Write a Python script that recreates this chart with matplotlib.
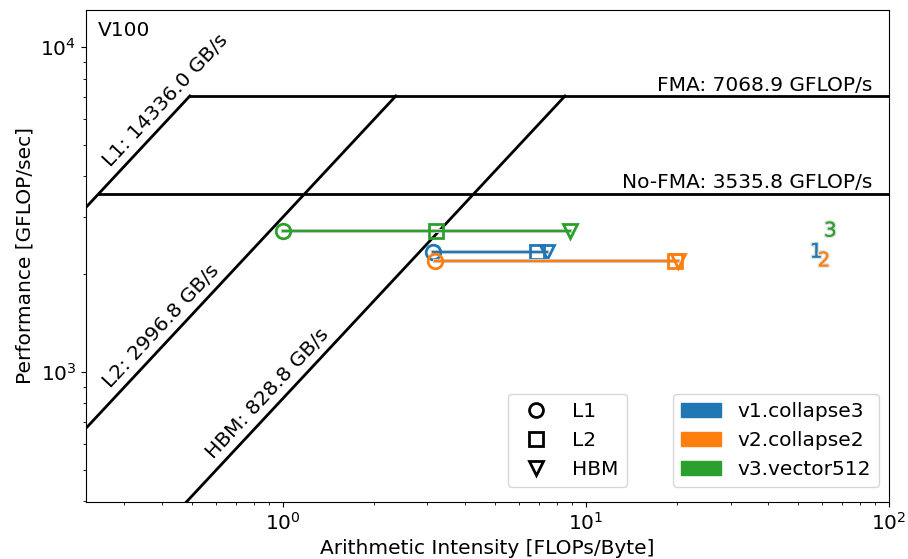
import numpy as np
import matplotlib
matplotlib.use("Agg")
import matplotlib.pyplot as plt
import matplotlib.patheffects as pe
from matplotlib.lines import Line2D
from matplotlib.patches import Patch

# roofline parameters (V100)
mem_names = ["L1", "L2", "HBM"]
mem_bw = [14336.0, 2996.8, 828.8]  # GB/s
comp_names = ["FMA", "No-FMA"]
comp_peak = [7068.9, 3535.8]  # GFLOP/s

# kernels: arithmetic intensity for L1, L2, HBM and measured performance
kernels = ["v1.collapse3", "v2.collapse2", "v3.vector512"]
kernel_ai = [
    [3.13, 6.89, 7.43],
    [3.17, 19.7, 20.1],
    [1.00, 3.20, 8.85],
]
kernel_perf = [2339, 2197, 2716]
kernel_tag = ["1", "2", "3"]
tag_x = [57.5, 61.0, 64.0]
colors = ["#1f77b4", "#ff7f0e", "#2ca02c"]
markers = ["o", "s", "v"]

xmin, xmax = 0.224, 100
ymin, ymax = 398, 13000

plt.rcParams["font.size"] = 14.5
fig = plt.figure(figsize=(9.08, 5.59), dpi=100)
ax = fig.add_axes([86 / 908, 1 - 502 / 559, (889 - 86) / 908, (502 - 10) / 559])
ax.set_xscale("log")
ax.set_yscale("log")
ax.set_xlim(xmin, xmax)
ax.set_ylim(ymin, ymax)

# compute roofs
peak = max(comp_peak)
for name, p in zip(comp_names, comp_peak):
    x0 = p / max(mem_bw)
    ax.plot([x0, xmax], [p, p], color="black", lw=2)
    ax.annotate(f"{name}: {p} GFLOP/s", xy=(xmax, p), xytext=(-12, 1),
                textcoords="offset points", ha="right", va="bottom")

fig.canvas.draw()
label_x = [0.258, 0.258, 0.565]
for name, bw, xl in zip(mem_names, mem_bw, label_x):
    xr = peak / bw
    ax.plot([xmin, xr], [bw * xmin, peak], color="black", lw=2)
    # label angle in display space
    p1 = ax.transData.transform((0.3, bw * 0.3))
    p2 = ax.transData.transform((3.0, bw * 3.0))
    ang = np.degrees(np.arctan2(p2[1] - p1[1], p2[0] - p1[0]))
    ax.annotate(f"{name}: {bw} GB/s", xy=(xl, bw * xl), xytext=(6.5, 12),
                textcoords="offset points", rotation=ang, rotation_mode="anchor",
                ha="left", va="bottom")

shadow = [pe.Stroke(linewidth=3, foreground="#cccccc"), pe.Normal()]
for i, name in enumerate(kernels):
    ai = kernel_ai[i]
    perf = kernel_perf[i]
    ax.plot(ai, [perf] * 3, color=colors[i], lw=1.6, path_effects=shadow)
    for j in range(3):
        ax.plot(ai[j], perf, marker=markers[j], ms=10.5, mfc="none",
                mec=colors[i], mew=2, ls="none")
    ax.text(tag_x[i], perf, kernel_tag[i], color=colors[i], ha="center", va="center",
            path_effects=[pe.withStroke(linewidth=2, foreground="#dddddd"), pe.Normal()])

ax.text(0.015, 0.977, "V100", transform=ax.transAxes, ha="left", va="top")
ax.set_xlabel("Arithmetic Intensity [FLOPs/Byte]")
ax.set_ylabel("Performance [GFLOP/sec]")

mem_handles = [Line2D([], [], marker=m, color="black", ls="none", ms=10, mfc="none", mew=2)
               for m in markers]
leg1 = ax.legend(mem_handles, mem_names, loc="lower right",
                 bbox_to_anchor=(0.686, 0.01))
ax.add_artist(leg1)
kern_handles = [Patch(color=c) for c in colors]
ax.legend(kern_handles, kernels, loc="lower right", bbox_to_anchor=(0.9995, 0.01))

fig.savefig("out.png", dpi=100)
